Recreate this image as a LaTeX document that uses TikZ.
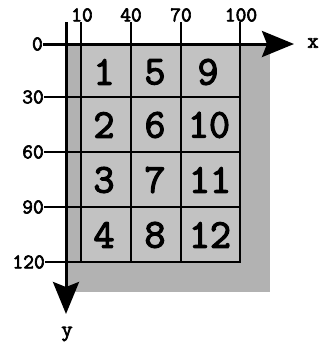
\documentclass[tikz,border=0pt]{standalone}
\usepackage{fontspec}
\newfontfamily\courb{Latin Modern Mono}[FakeBold=3]
\usetikzlibrary{arrows.meta}
\begin{document}
\begin{tikzpicture}[x=1bp,y=-1bp,
  axisline/.style={line width=3bp},
  gridline/.style={line width=1.8bp},
  ticklbl/.style={font=\courb\fontsize{21}{21}\selectfont, inner sep=0pt},
  axlbl/.style={font=\courb\fontsize{22}{22}\selectfont, inner sep=0pt},
  cellnum/.style={font=\courb\fontsize{41}{41}\selectfont, inner sep=0pt},
  bigtip/.style={-{Stealth[length=32bp,width=26bp,inset=5bp]}}]
\useasboundingbox (0,0) rectangle (320,351);
% grey background (screen area)
\fill[black!30] (66,44) rectangle (270,292);
\fill[black!24] (81,44) rectangle (240,262);
% named points
\coordinate (ytop) at (66,22);
\coordinate (yend) at (66,314);
\coordinate (xend) at (294,44);
% top tick labels and ticks
\node[ticklbl] (t10) at (82,15) {10};
\node[ticklbl] (t40) at (131,15) {40};
\node[ticklbl] (t70) at (181,15) {70};
\node[ticklbl] (t100) at (241,15) {100};
\coordinate (c10t) at (81,22);  \coordinate (c10b) at (81,262);
\coordinate (c40t) at (131,22); \coordinate (c40b) at (131,262);
\coordinate (c70t) at (181,22); \coordinate (c70b) at (181,262);
\coordinate (c100t) at (240,22); \coordinate (c100b) at (240,263);
\draw[gridline] (c10t) -- (c10b);
\draw[gridline] (c40t) -- (c40b);
\draw[gridline] (c70t) -- (c70b);
\draw[gridline] (c100t) -- (c100b);
% left tick labels and rows
\node[ticklbl, anchor=east] (l0) at (43,44) {0};
\node[ticklbl, anchor=east] (l30) at (44,97) {30};
\node[ticklbl, anchor=east] (l60) at (44,152) {60};
\node[ticklbl, anchor=east] (l90) at (44,207) {90};
\node[ticklbl, anchor=east] (l120) at (45,262) {120};
\coordinate (r30) at (241,97);
\coordinate (r60) at (241,152);
\coordinate (r90) at (241,207);
\coordinate (r120) at (241,262);
\draw[gridline] (l30.east) -- (r30);
\draw[gridline] (l60.east) -- (r60);
\draw[gridline] (l90.east) -- (r90);
\draw[gridline] (l120.east) -- (r120);
% axes
\draw[axisline, bigtip] (l0.east) -- (xend);
\draw[axisline, bigtip] (ytop) -- (yend);
\node[axlbl] (xl) at (313,43) {x};
\node[axlbl] (yl) at (67,334) {y};
% cell numbers
\node[cellnum] (n1) at (104,72) {1};
\node[cellnum] (n2) at (104,125) {2};
\node[cellnum] (n3) at (104,180) {3};
\node[cellnum] (n4) at (104,235) {4};
\node[cellnum] (n5) at (155,72) {5};
\node[cellnum] (n6) at (155,125) {6};
\node[cellnum] (n7) at (155,180) {7};
\node[cellnum] (n8) at (155,235) {8};
\node[cellnum] (n9) at (208,72) {9};
\node[cellnum] (n10) at (209,125) {10};
\node[cellnum] (n11) at (210,180) {11};
\node[cellnum] (n12) at (210,235) {12};
\end{tikzpicture}
\end{document}
